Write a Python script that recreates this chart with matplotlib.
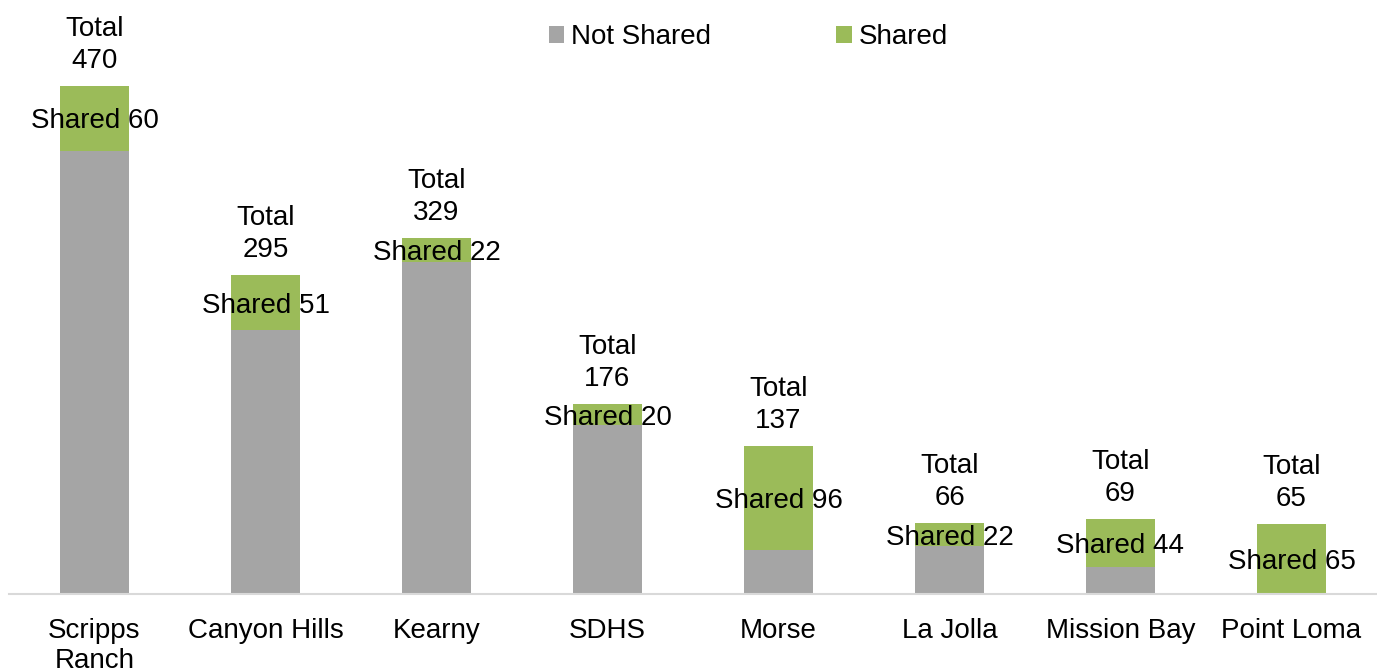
import matplotlib
matplotlib.use("Agg")
import matplotlib.pyplot as plt
from matplotlib.patches import Patch

categories = ["Scripps\nRanch", "Canyon Hills", "Kearny", "SDHS", "Morse",
              "La Jolla", "Mission Bay", "Point Loma"]
not_shared = [410, 244, 307, 156, 41, 44, 25, 0]
shared = [60, 51, 22, 20, 96, 22, 44, 65]

GRAY = "#A5A5A5"
GREEN = "#9BBB59"
FS = 20

plt.rcParams["font.family"] = ["Liberation Sans", "DejaVu Sans"]

W, H = 1377, 671
fig = plt.figure(figsize=(W / 100, H / 100), dpi=100)
ax = fig.add_axes([9 / W, 77 / H, 1368 / W, 594 / H])

x = list(range(len(categories)))
ax.bar(x, not_shared, width=0.40, color=GRAY, label="Not Shared")
ax.bar(x, shared, width=0.40, bottom=not_shared, color=GREEN, label="Shared")

for i, (ns, sh) in enumerate(zip(not_shared, shared)):
    total = ns + sh
    ax.annotate(f"Shared {sh}", xy=(i, ns + sh / 2), xytext=(0, -3),
                textcoords="offset pixels", ha="center", va="center",
                fontsize=FS, color="black")
    ax.annotate(f"Total\n{total}", xy=(i, total), xytext=(0, 12),
                textcoords="offset pixels", ha="center", va="bottom",
                fontsize=FS, color="black", linespacing=1.3)

ax.set_xlim(-0.5, len(categories) - 0.5)
ax.set_ylim(0, 549.5)
ax.set_xticks(x)
ax.set_xticklabels(categories, fontsize=FS, linespacing=1.22)
ax.tick_params(axis="x", length=0, pad=17)
ax.set_yticks([])
for s in ["left", "right", "top"]:
    ax.spines[s].set_visible(False)
ax.spines["bottom"].set_color("#D9D9D9")
ax.spines["bottom"].set_linewidth(1.5)

handles = [Patch(facecolor=GRAY, label="Not Shared"),
           Patch(facecolor=GREEN, label="Shared")]
fig.legend(handles=handles, loc="center left",
           bbox_to_anchor=(549 / W, 1 - 37 / H), ncol=2, frameon=False,
           fontsize=FS, handlelength=0.55, handleheight=0.55,
           handletextpad=0.25, columnspacing=4.5, borderpad=0,
           borderaxespad=0)

fig.savefig("out.png", dpi=100)
